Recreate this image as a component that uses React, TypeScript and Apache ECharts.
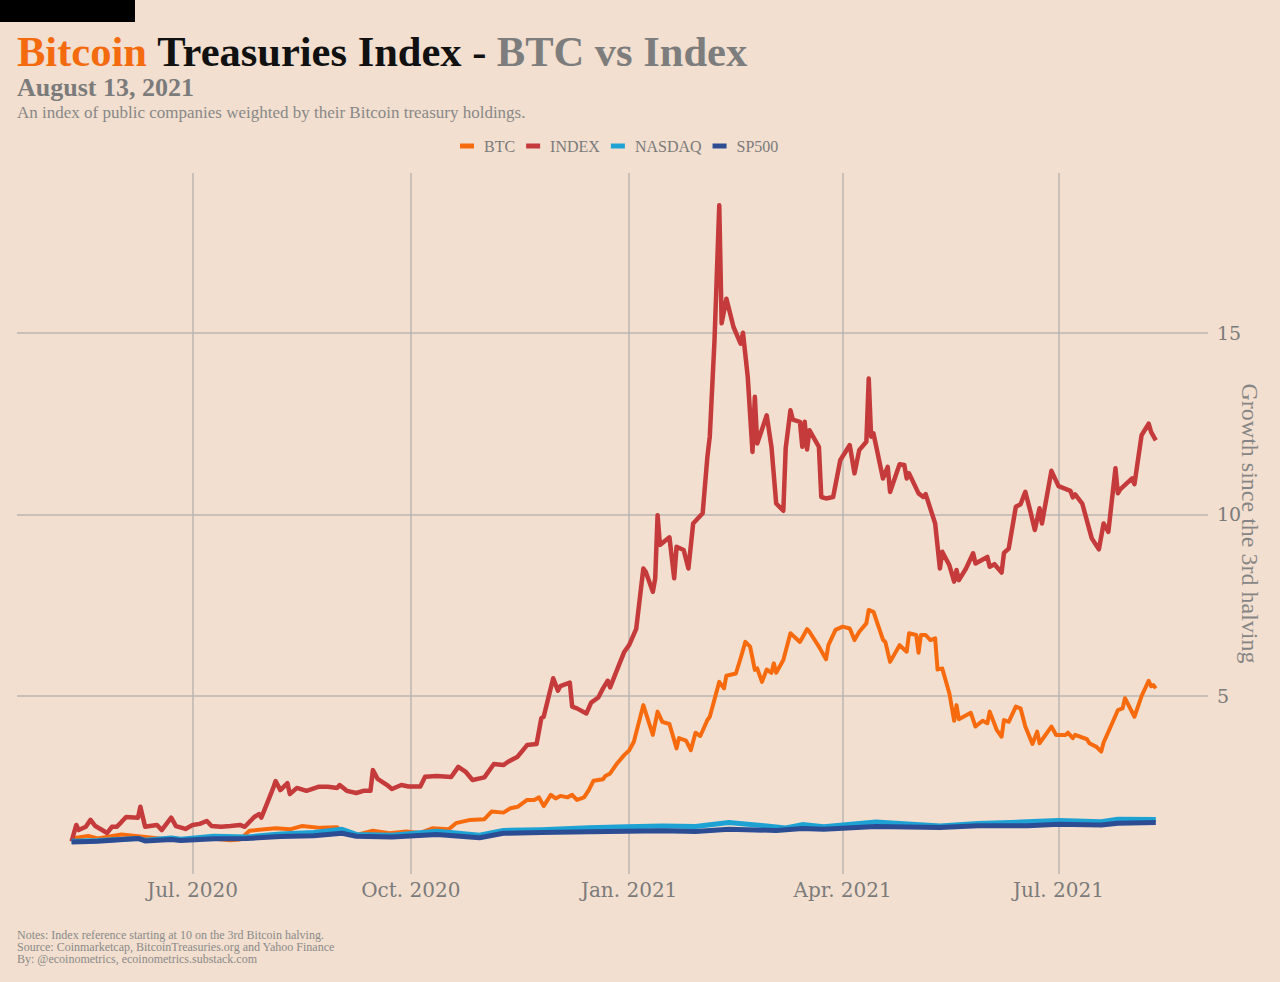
import { useEffect, useRef } from 'react';
import * as echarts from 'echarts';

// growth since the 3rd halving (2020-05-11 = 1)
const BTC: [string, number][] = [
  ['2020-05-11', 1.0], ['2020-05-13', 1.1], ['2020-05-18', 1.15], ['2020-05-22', 1.08],
  ['2020-06-01', 1.19], ['2020-06-09', 1.13], ['2020-06-17', 1.08], ['2020-06-30', 1.05],
  ['2020-07-10', 1.07], ['2020-07-17', 1.03], ['2020-07-21', 1.05], ['2020-07-25', 1.29],
  ['2020-08-05', 1.36], ['2020-08-11', 1.33], ['2020-08-16', 1.42], ['2020-08-24', 1.37],
  ['2020-08-31', 1.39], ['2020-09-02', 1.23], ['2020-09-09', 1.19], ['2020-09-15', 1.29],
  ['2020-09-22', 1.22], ['2020-09-29', 1.27], ['2020-10-05', 1.23], ['2020-10-10', 1.36],
  ['2020-10-17', 1.33], ['2020-10-20', 1.5], ['2020-10-26', 1.59], ['2020-11-01', 1.61],
  ['2020-11-04', 1.82], ['2020-11-09', 1.79], ['2020-11-12', 1.91], ['2020-11-15', 1.95],
  ['2020-11-19', 2.14], ['2020-11-22', 2.14], ['2020-11-24', 2.21], ['2020-11-26', 1.97],
  ['2020-11-29', 2.28], ['2020-12-01', 2.18], ['2020-12-03', 2.25], ['2020-12-06', 2.21],
  ['2020-12-08', 2.28], ['2020-12-10', 2.14], ['2020-12-13', 2.21], ['2020-12-15', 2.41],
  ['2020-12-17', 2.67], ['2020-12-21', 2.71], ['2020-12-22', 2.8], ['2020-12-24', 2.87],
  ['2020-12-27', 3.15], ['2020-12-30', 3.38], ['2021-01-01', 3.5], ['2021-01-03', 3.74],
  ['2021-01-07', 4.75], ['2021-01-11', 3.93], ['2021-01-13', 4.57], ['2021-01-15', 4.29],
  ['2021-01-18', 4.23], ['2021-01-21', 3.56], ['2021-01-22', 3.84], ['2021-01-25', 3.77],
  ['2021-01-27', 3.51], ['2021-01-29', 3.99], ['2021-01-31', 3.9], ['2021-02-03', 4.34],
  ['2021-02-04', 4.43], ['2021-02-08', 5.39], ['2021-02-10', 5.21], ['2021-02-11', 5.56],
  ['2021-02-15', 5.62], ['2021-02-17', 6.04], ['2021-02-19', 6.49], ['2021-02-21', 6.36],
  ['2021-02-23', 5.72], ['2021-02-24', 5.76], ['2021-02-26', 5.39], ['2021-02-28', 5.73],
  ['2021-03-02', 5.64], ['2021-03-03', 5.9], ['2021-03-04', 5.64], ['2021-03-07', 5.99],
  ['2021-03-10', 6.73], ['2021-03-14', 6.49], ['2021-03-17', 6.84], ['2021-03-18', 6.77],
  ['2021-03-22', 6.36], ['2021-03-25', 6.01], ['2021-03-26', 6.4], ['2021-03-29', 6.82],
  ['2021-04-01', 6.91], ['2021-04-04', 6.86], ['2021-04-06', 6.54], ['2021-04-08', 6.77],
  ['2021-04-11', 7.0], ['2021-04-12', 7.37], ['2021-04-14', 7.32], ['2021-04-18', 6.55],
  ['2021-04-19', 6.49], ['2021-04-21', 5.94], ['2021-04-25', 6.4], ['2021-04-28', 6.22],
  ['2021-04-29', 6.73], ['2021-05-02', 6.68], ['2021-05-03', 6.19], ['2021-05-04', 6.68],
  ['2021-05-06', 6.68], ['2021-05-08', 6.54], ['2021-05-10', 6.59], ['2021-05-11', 5.73],
  ['2021-05-13', 5.76], ['2021-05-16', 5.07], ['2021-05-18', 4.32], ['2021-05-19', 4.75],
  ['2021-05-20', 4.36], ['2021-05-25', 4.54], ['2021-05-27', 4.16], ['2021-05-30', 4.32],
  ['2021-06-01', 4.25], ['2021-06-02', 4.57], ['2021-06-05', 4.06], ['2021-06-07', 3.88],
  ['2021-06-08', 4.34], ['2021-06-10', 4.29], ['2021-06-13', 4.71], ['2021-06-15', 4.66],
  ['2021-06-17', 4.16], ['2021-06-20', 3.68], ['2021-06-22', 4.02], ['2021-06-23', 3.7],
  ['2021-06-28', 4.16], ['2021-06-30', 3.93], ['2021-07-04', 3.93], ['2021-07-05', 3.99],
  ['2021-07-07', 3.84], ['2021-07-08', 3.93], ['2021-07-13', 3.81], ['2021-07-14', 3.7],
  ['2021-07-17', 3.6], ['2021-07-19', 3.47], ['2021-07-20', 3.72], ['2021-07-23', 4.16],
  ['2021-07-26', 4.61], ['2021-07-28', 4.66], ['2021-07-29', 4.94], ['2021-08-02', 4.43],
  ['2021-08-05', 5.0], ['2021-08-08', 5.42], ['2021-08-09', 5.27], ['2021-08-10', 5.3],
  ['2021-08-11', 5.21],
];

const INDEX: [string, number][] = [
  ['2020-05-11', 1.0], ['2020-05-13', 1.45], ['2020-05-14', 1.31], ['2020-05-17', 1.4],
  ['2020-05-19', 1.59], ['2020-05-21', 1.42], ['2020-05-26', 1.23], ['2020-05-28', 1.4],
  ['2020-05-30', 1.4], ['2020-06-01', 1.53], ['2020-06-03', 1.67], ['2020-06-08', 1.65],
  ['2020-06-09', 1.95], ['2020-06-11', 1.4], ['2020-06-13', 1.42], ['2020-06-16', 1.45],
  ['2020-06-18', 1.31], ['2020-06-22', 1.65], ['2020-06-24', 1.42], ['2020-06-28', 1.34],
  ['2020-07-01', 1.45], ['2020-07-04', 1.48], ['2020-07-07', 1.56], ['2020-07-09', 1.42],
  ['2020-07-13', 1.4], ['2020-07-17', 1.42], ['2020-07-21', 1.45], ['2020-07-23', 1.4],
  ['2020-07-27', 1.67], ['2020-07-29', 1.75], ['2020-07-30', 1.65], ['2020-08-02', 2.14],
  ['2020-08-04', 2.47], ['2020-08-05', 2.66], ['2020-08-07', 2.41], ['2020-08-10', 2.6],
  ['2020-08-11', 2.3], ['2020-08-14', 2.47], ['2020-08-18', 2.39], ['2020-08-23', 2.5],
  ['2020-08-27', 2.5], ['2020-08-31', 2.47], ['2020-09-01', 2.55], ['2020-09-04', 2.39],
  ['2020-09-08', 2.33], ['2020-09-11', 2.39], ['2020-09-14', 2.39], ['2020-09-15', 2.96],
  ['2020-09-17', 2.72], ['2020-09-21', 2.55], ['2020-09-23', 2.44], ['2020-09-27', 2.55],
  ['2020-09-30', 2.51], ['2020-10-05', 2.51], ['2020-10-07', 2.78], ['2020-10-12', 2.8],
  ['2020-10-18', 2.77], ['2020-10-21', 3.05], ['2020-10-24', 2.92], ['2020-10-27', 2.69],
  ['2020-11-01', 2.76], ['2020-11-05', 3.13], ['2020-11-09', 3.1], ['2020-11-11', 3.19],
  ['2020-11-15', 3.33], ['2020-11-19', 3.65], ['2020-11-23', 3.68], ['2020-11-25', 4.39],
  ['2020-11-26', 4.43], ['2020-11-30', 5.49], ['2020-12-02', 5.15], ['2020-12-03', 5.27],
  ['2020-12-07', 5.37], ['2020-12-08', 4.71], ['2020-12-10', 4.66], ['2020-12-14', 4.52],
  ['2020-12-16', 4.82], ['2020-12-19', 4.96], ['2020-12-21', 5.21], ['2020-12-23', 5.42],
  ['2020-12-24', 5.24], ['2020-12-28', 5.9], ['2020-12-30', 6.22], ['2021-01-01', 6.4],
  ['2021-01-04', 6.85], ['2021-01-07', 8.51], ['2021-01-08', 8.42], ['2021-01-11', 7.87],
  ['2021-01-12', 8.24], ['2021-01-13', 9.98], ['2021-01-14', 9.16], ['2021-01-18', 9.37],
  ['2021-01-20', 8.24], ['2021-01-21', 9.11], ['2021-01-24', 9.02], ['2021-01-26', 8.51],
  ['2021-01-28', 9.75], ['2021-02-01', 10.03], ['2021-02-03', 11.59], ['2021-02-04', 12.14],
  ['2021-02-06', 14.8], ['2021-02-08', 18.51], ['2021-02-09', 15.26], ['2021-02-11', 15.94],
  ['2021-02-14', 15.16], ['2021-02-17', 14.7], ['2021-02-18', 15.0], ['2021-02-20', 13.79],
  ['2021-02-22', 11.72], ['2021-02-23', 13.24], ['2021-02-24', 11.95], ['2021-02-28', 12.73],
  ['2021-03-02', 11.86], ['2021-03-04', 10.3], ['2021-03-07', 10.1], ['2021-03-08', 11.82],
  ['2021-03-10', 12.87], ['2021-03-11', 12.61], ['2021-03-14', 12.55], ['2021-03-15', 11.86],
  ['2021-03-16', 12.55], ['2021-03-17', 11.79], ['2021-03-18', 12.32], ['2021-03-22', 11.86],
  ['2021-03-23', 10.48], ['2021-03-25', 10.44], ['2021-03-28', 10.48], ['2021-03-31', 11.49],
  ['2021-04-04', 11.91], ['2021-04-06', 11.13], ['2021-04-08', 11.77], ['2021-04-11', 12.0],
  ['2021-04-12', 13.74], ['2021-04-13', 12.14], ['2021-04-14', 12.23], ['2021-04-18', 10.99],
  ['2021-04-20', 11.31], ['2021-04-21', 10.62], ['2021-04-25', 11.38], ['2021-04-27', 11.36],
  ['2021-04-28', 10.99], ['2021-04-29', 11.13], ['2021-05-03', 10.58], ['2021-05-05', 10.48],
  ['2021-05-06', 10.56], ['2021-05-10', 9.75], ['2021-05-12', 8.51], ['2021-05-13', 8.97],
  ['2021-05-16', 8.6], ['2021-05-18', 8.15], ['2021-05-19', 8.47], ['2021-05-20', 8.19],
  ['2021-05-23', 8.51], ['2021-05-26', 8.93], ['2021-05-27', 8.65], ['2021-06-01', 8.83],
  ['2021-06-02', 8.56], ['2021-06-04', 8.63], ['2021-06-07', 8.4], ['2021-06-08', 8.94],
  ['2021-06-10', 9.06], ['2021-06-13', 10.21], ['2021-06-15', 10.28], ['2021-06-17', 10.62],
  ['2021-06-19', 10.12], ['2021-06-21', 9.57], ['2021-06-23', 10.17], ['2021-06-24', 9.75],
  ['2021-06-28', 11.2], ['2021-07-01', 10.78], ['2021-07-06', 10.65], ['2021-07-07', 10.47],
  ['2021-07-08', 10.55], ['2021-07-11', 10.3], ['2021-07-15', 9.34], ['2021-07-18', 9.04],
  ['2021-07-20', 9.75], ['2021-07-22', 9.52], ['2021-07-25', 11.27], ['2021-07-26', 10.58],
  ['2021-07-27', 10.69], ['2021-08-01', 10.99], ['2021-08-02', 10.83], ['2021-08-05', 12.18],
  ['2021-08-08', 12.5], ['2021-08-09', 12.27], ['2021-08-11', 12.04],
];

const NASDAQ: [string, number][] = [
  ['2020-05-11', 1.0], ['2020-05-22', 1.02], ['2020-06-08', 1.08], ['2020-06-11', 1.03],
  ['2020-06-22', 1.09], ['2020-06-26', 1.06], ['2020-07-10', 1.14], ['2020-07-24', 1.12],
  ['2020-08-07', 1.2], ['2020-08-21', 1.24], ['2020-09-02', 1.33], ['2020-09-08', 1.19],
  ['2020-09-23', 1.17], ['2020-10-12', 1.28], ['2020-10-30', 1.17], ['2020-11-09', 1.3],
  ['2020-11-25', 1.32], ['2020-12-15', 1.37], ['2020-12-31', 1.4], ['2021-01-15', 1.42],
  ['2021-01-29', 1.41], ['2021-02-12', 1.52], ['2021-03-08', 1.37], ['2021-03-15', 1.46],
  ['2021-03-24', 1.4], ['2021-04-15', 1.53], ['2021-05-12', 1.42], ['2021-05-28', 1.49],
  ['2021-06-15', 1.53], ['2021-07-01', 1.57], ['2021-07-19', 1.54], ['2021-07-26', 1.61],
  ['2021-08-11', 1.6],
];

const SP500: [string, number][] = [
  ['2020-05-11', 0.98], ['2020-05-22', 1.0], ['2020-06-08', 1.08], ['2020-06-11', 1.01],
  ['2020-06-22', 1.05], ['2020-06-26', 1.02], ['2020-07-10', 1.07], ['2020-07-24', 1.08],
  ['2020-08-07', 1.13], ['2020-08-21', 1.15], ['2020-09-02', 1.22], ['2020-09-08', 1.14],
  ['2020-09-23', 1.12], ['2020-10-12', 1.19], ['2020-10-30', 1.1], ['2020-11-09', 1.22],
  ['2020-11-25', 1.24], ['2020-12-15', 1.26], ['2020-12-31', 1.28], ['2021-01-15', 1.29],
  ['2021-01-29', 1.27], ['2021-02-12', 1.33], ['2021-03-04', 1.3], ['2021-03-15', 1.35],
  ['2021-03-24', 1.33], ['2021-04-15', 1.41], ['2021-05-12', 1.38], ['2021-05-28', 1.43],
  ['2021-06-18', 1.43], ['2021-07-01', 1.47], ['2021-07-19', 1.45], ['2021-07-26', 1.5],
  ['2021-08-11', 1.52],
];

const X_TICKS = ['2020-07-01', '2020-10-01', '2021-01-01', '2021-04-01', '2021-07-01'];
const X_RANGE = ['2020-04-18', '2021-09-02'];
const Y_TICKS = [5, 10, 15];
const MONTHS = ['Jan.', 'Feb.', 'Mar.', 'Apr.', 'May', 'Jun.', 'Jul.', 'Aug.', 'Sep.', 'Oct.', 'Nov.', 'Dec.'];

const SERIF = '"Liberation Serif", "DejaVu Serif", serif';
const LABEL_FONT = '"DejaVu Serif", serif';
const BG = '#f2dfcf';
const GRAY = '#7b7b7b';
const GRID = '#bab6b2';

// 'YYYY-MM-DD' -> UTC timestamp
const ts = (s: string) => {
  const [y, m, d] = s.split('-').map(Number);
  return Date.UTC(y, m - 1, d);
};

const App = () => {
  const chartRef = useRef<HTMLDivElement>(null);

  useEffect(() => {
    if (!chartRef.current) return;
    document.body.style.margin = '0';
    const chart = echarts.init(chartRef.current, null, { renderer: 'svg' });

    const xTicks = X_TICKS.map(ts);

    const lineSeries = (name: string, data: [string, number][], color: string, width: number) => ({
      name,
      type: 'line' as const,
      data: data.map(([d, v]) => [ts(d), v]),
      showSymbol: false,
      symbol: 'none',
      color,
      lineStyle: { color, width, join: 'round' as const },
      emphasis: { disabled: true },
    });

    const titleRich = (fill: string) => ({
      fontFamily: SERIF, fontWeight: 'bold', fontSize: 42.5, lineHeight: 38, fill,
    });

    chart.setOption({
      animation: false,
      backgroundColor: BG,
      textStyle: { fontFamily: SERIF },
      graphic: [
        { type: 'rect', shape: { x: 0, y: 0, width: 135, height: 22 }, style: { fill: '#000' } },
        {
          type: 'text', x: 17, y: 51,
          style: {
            text: '{o|Bitcoin} {k|Treasuries Index -} {g|BTC vs Index}',
            verticalAlign: 'middle',
            font: `bold 42px ${SERIF}`,
            lineHeight: 38,
            fill: '#111111',
            rich: {
              o: titleRich('#f46b0f'),
              k: titleRich('#111111'),
              g: titleRich('#7d7d7d'),
            },
          },
        },
        {
          type: 'text', x: 17, y: 87,
          style: {
            text: 'August 13, 2021', verticalAlign: 'middle', font: `bold 26px ${SERIF}`,
            lineHeight: 24, fill: GRAY,
          },
        },
        {
          type: 'text', x: 17, y: 112,
          style: {
            text: 'An index of public companies weighted by their Bitcoin treasury holdings.',
            verticalAlign: 'middle', font: `17px ${SERIF}`, lineHeight: 17, fill: '#888888',
          },
        },
        {
          type: 'text', x: 17, y: 929,
          style: {
            text: 'Notes: Index reference starting at 10 on the 3rd Bitcoin halving.\nSource: Coinmarketcap, BitcoinTreasuries.org and Yahoo Finance\nBy: @ecoinometrics, ecoinometrics.substack.com',
            font: `12px ${SERIF}`, lineHeight: 12, fill: '#8a8a8a',
          },
        },
      ],
      legend: {
        top: 133,
        left: 455,
        icon: 'rect',
        itemWidth: 14,
        itemHeight: 5,
        itemGap: 11,
        textStyle: { fontFamily: SERIF, fontSize: 16, color: GRAY, padding: [0, 0, 0, 5] },
        data: ['BTC', 'INDEX', 'NASDAQ', 'SP500'],
      },
      grid: { left: 17, right: 72, top: 173, bottom: 108 },
      xAxis: {
        type: 'value',
        min: ts(X_RANGE[0]),
        max: ts(X_RANGE[1]),
        axisLine: { show: false },
        axisTick: { show: false, customValues: xTicks },
        axisLabel: {
          customValues: xTicks,
          margin: 6,
          fontFamily: LABEL_FONT,
          fontSize: 20,
          color: GRAY,
          formatter: (v: number) => {
            const d = new Date(v);
            return `${MONTHS[d.getUTCMonth()]} ${d.getUTCFullYear()}`;
          },
        },
        splitLine: { show: true, lineStyle: { color: GRID, width: 1.5 } },
      },
      yAxis: {
        type: 'value',
        position: 'right',
        min: 0.1,
        max: 19.4,
        axisLine: { show: false },
        axisTick: { show: false, customValues: Y_TICKS },
        axisLabel: { customValues: Y_TICKS, margin: 9, fontFamily: LABEL_FONT, fontSize: 19, color: GRAY },
        splitLine: { show: true, lineStyle: { color: GRID, width: 1.5 } },
        name: 'Growth since the 3rd halving',
        nameLocation: 'middle',
        nameGap: 30,
        nameMoveOverlap: false,
        nameRotate: -90,
        nameTextStyle: { fontFamily: SERIF, fontSize: 24, color: '#858585' },
      },
      series: [
        lineSeries('BTC', BTC, '#f76b0e', 4),
        lineSeries('INDEX', INDEX, '#c53a3a', 4.5),
        lineSeries('NASDAQ', NASDAQ, '#1ea2d4', 5),
        lineSeries('SP500', SP500, '#2c4d94', 5),
      ],
    });

    return () => {
      chart.dispose();
    };
  }, []);

  return <div ref={chartRef} style={{ width: 1280, height: 982 }} />;
};

export default App;
